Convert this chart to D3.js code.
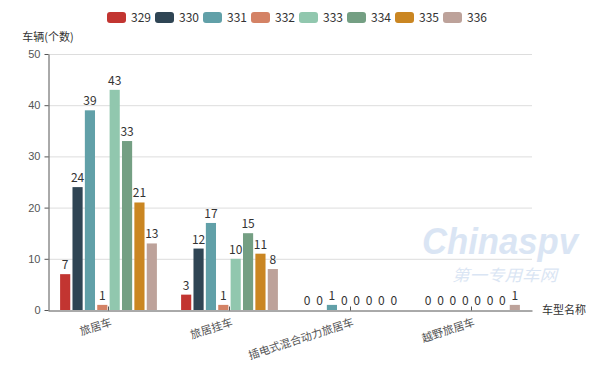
<!DOCTYPE html>
<html><head><meta charset="utf-8">
<script src="https://cdn.jsdelivr.net/npm/d3@7"></script>
<style>body{margin:0;background:#fff}svg{font-family:"Noto Sans CJK SC","Microsoft YaHei",sans-serif}</style>
</head><body><svg id="c" width="600" height="375"></svg>
<script>
const categories = ["旅居车","旅居挂车","插电式混合动力旅居车","越野旅居车"];
const seriesNames = ["329","330","331","332","333","334","335","336"];
const values = [
  [7,3,0,0],
  [24,12,0,0],
  [39,17,1,0],
  [1,1,0,0],
  [43,10,0,0],
  [33,15,0,0],
  [21,11,0,0],
  [13,8,0,1]
];
const colors = ["#c23531","#2f4554","#61a0a8","#d48265","#91c7ae","#749f83","#ca8622","#bda29a"];
const yTicks = [0,10,20,30,40,50];
const yName = "车辆(个数)", xName = "车型名称";

const svg = d3.select("#c");
const L=48,R=532,T=54,B=310;
const x = d3.scaleBand().domain(categories).range([L,R]).paddingInner(0.2).paddingOuter(0.1);
const xc = d3.scaleBand().domain(categories).range([L,R]);
const xs = d3.scaleBand().domain(seriesNames).range([0,x.bandwidth()]).paddingInner(0.18);
const y = d3.scaleLinear().domain([0,50]).range([B,T]);

// watermark
const wm = svg.append("g").attr("opacity",0.5);
wm.append("text").attr("x",422).attr("y",254).attr("textLength",156).attr("lengthAdjust","spacingAndGlyphs")
  .attr("font-family","Arial, 'Liberation Sans'").attr("font-style","italic").attr("font-weight","bold").attr("font-size",36).attr("fill","#b7cdea").text("Chinaspv");
wm.append("text").attr("x",452).attr("y",281).attr("textLength",105).attr("lengthAdjust","spacingAndGlyphs")
  .attr("font-size",16).attr("font-style","italic").attr("fill","#b7cdea").text("第一专用车网");

// grid
svg.append("g").selectAll("line").data(yTicks.filter(d=>d>0)).join("line")
  .attr("x1",L).attr("x2",R).attr("y1",d=>y(d)+0.5).attr("y2",d=>y(d)+0.5)
  .attr("stroke","#ddd");

// y axis
const ya = svg.append("g").attr("transform",`translate(${L+0.5},0)`)
  .call(d3.axisLeft(y).tickValues(yTicks).tickSize(4).tickSizeOuter(0).tickPadding(4));
ya.select(".domain").attr("stroke","#555");
ya.selectAll(".tick line").attr("stroke","#555");
ya.selectAll("text").attr("fill","#555").attr("font-size",11).attr("font-family","inherit");

// bars
const g = svg.append("g");
seriesNames.forEach((s,i)=>{
  const gg = g.append("g");
  gg.selectAll("rect").data(categories.map((c,j)=>({c,v:values[i][j]}))).join("rect")
    .attr("x",d=>x(d.c)+xs(s)).attr("width",xs.bandwidth())
    .attr("y",d=>y(d.v)).attr("height",d=>B-y(d.v)).attr("fill",colors[i]);
  gg.selectAll("text").data(categories.map((c,j)=>({c,v:values[i][j]}))).join("text")
    .attr("x",d=>x(d.c)+xs(s)+xs.bandwidth()/2).attr("y",d=>y(d.v)-5)
    .attr("text-anchor","middle").attr("font-size",12).attr("fill","#333").text(d=>d.v);
});

// x axis
const xa = svg.append("g").attr("transform",`translate(0,${B+0.5})`)
  .call(d3.axisBottom(xc).tickSize(4).tickSizeOuter(0).tickFormat(""));
xa.select(".domain").attr("stroke","#555");
xa.selectAll(".tick line").attr("stroke","#555").attr("y2",-4);
svg.append("g").selectAll("text").data(categories).join("text")
  .attr("transform",d=>`translate(${xc(d)+xc.bandwidth()/2+1},${B+6}) rotate(-18)`)
  .attr("text-anchor","end").attr("dy","0.9em").attr("font-size",11).attr("fill","#555").text(d=>d);

// axis names
svg.append("text").attr("x",L).attr("y",41).attr("text-anchor","middle").attr("font-size",11).attr("fill","#333").text(yName);
svg.append("text").attr("x",R+10).attr("y",B+4).attr("font-size",11).attr("fill","#333").text(xName);

// legend
const lg = svg.append("g");
seriesNames.forEach((s,i)=>{
  const lx = 107 + i*48;
  lg.append("rect").attr("x",lx).attr("y",12).attr("width",19).attr("height",11).attr("rx",3).attr("fill",colors[i]);
  lg.append("text").attr("x",lx+24).attr("y",21.5).attr("font-size",12).attr("fill","#333").text(s);
});
</script></body></html>
